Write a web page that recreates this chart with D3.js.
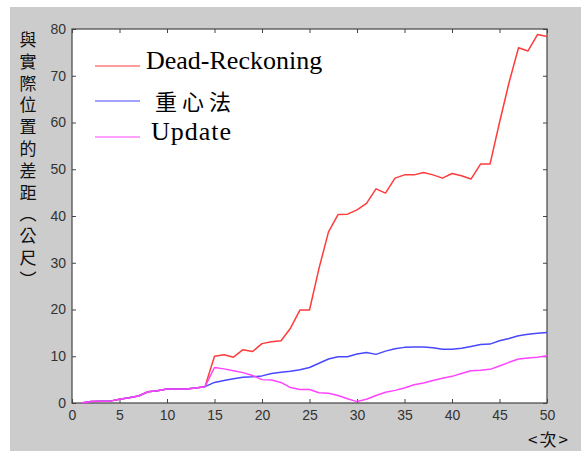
<!DOCTYPE html>
<html>
<head>
<meta charset="utf-8">
<script src="https://cdn.jsdelivr.net/npm/d3@7"></script>
<style>
  body { margin: 0; background: #fff; }
  .tick text { font-family: "Liberation Sans", Arial, sans-serif; font-size: 14px; fill: #333; }
</style>
</head>
<body>
<div id="chart"></div>
<script>
// data: error vs. real position (m) per step
const steps = d3.range(1, 51)
const deadReckoning = [0, 0.3, 0.4, 0.4, 0.8, 1.1, 1.5, 2.4, 2.6, 3.0, 3.0, 3.0, 3.2, 3.5,
    10.0, 10.3, 9.8, 11.4, 11.0, 12.7, 13.1, 13.3, 16.0, 19.9, 19.9, 28.8, 36.6, 40.3, 40.4, 41.3,
    42.7, 45.8, 44.9, 48.1, 48.8, 48.8, 49.3, 48.8, 48.1, 49.1, 48.6, 47.9, 51.1, 51.1, 60.0, 68.5,
    76.0, 75.3, 78.8, 78.4]
const centroid = [0, 0.3, 0.4, 0.4, 0.8, 1.1, 1.5, 2.4, 2.6, 3.0, 3.0, 3.0, 3.2, 3.5,
    4.4, 4.8, 5.2, 5.5, 5.6, 5.8, 6.3, 6.6, 6.8, 7.1, 7.6, 8.5, 9.4, 9.9, 9.9, 10.5,
    10.8, 10.4, 11.1, 11.6, 11.9, 12.0, 12.0, 11.8, 11.5, 11.5, 11.7, 12.1, 12.5, 12.6, 13.3, 13.8,
    14.4, 14.7, 14.9, 15.1]
const update = [0, 0.3, 0.4, 0.4, 0.8, 1.1, 1.5, 2.4, 2.6, 3.0, 3.0, 3.0, 3.2, 3.5,
    7.6, 7.3, 6.9, 6.5, 5.9, 5.0, 4.9, 4.4, 3.3, 2.9, 2.9, 2.2, 2.1, 1.6, 0.9, 0.3,
    0.8, 1.6, 2.3, 2.7, 3.2, 3.9, 4.3, 4.8, 5.3, 5.7, 6.3, 6.9, 7.0, 7.2, 7.9, 8.7,
    9.4, 9.6, 9.8, 10.1]
const seriesNames = ["Dead-Reckoning", "重心法", "Update"]
const seriesColors = ["#ff3c3c", "#4848ff", "#ff44ff"]
const xTicks = [0, 5, 10, 15, 20, 25, 30, 35, 40, 45, 50]
const yTicks = [0, 10, 20, 30, 40, 50, 60, 70, 80]
const yLabel = "與實際位置的差距（公尺）"

const W = 581, H = 453
const margin = {top: 29, right: 34, bottom: 50, left: 72}
const width = W - margin.left - margin.right
const height = H - margin.top - margin.bottom

const root = d3.select("#chart").append("svg")
    .attr("width", W)
    .attr("height", H)

// figure background
root.append("rect")
    .attr("x", 10).attr("y", 7)
    .attr("width", W - 10).attr("height", 444)
    .attr("fill", "#cccccc")

const svg = root.append("g")
    .attr("transform", `translate(${margin.left},${margin.top})`)

const x = d3.scaleLinear().domain([0, 50]).range([0, width])
const y = d3.scaleLinear().domain([0, 80]).range([height, 0])

svg.append("rect")
    .attr("width", width).attr("height", height)
    .attr("fill", "#fff")

// axes with inward ticks on all sides
const xAx = d3.axisBottom(x).tickValues(xTicks).tickSizeInner(-4).tickSizeOuter(0).tickPadding(7)
const yAx = d3.axisLeft(y).tickValues(yTicks).tickSizeInner(-4).tickSizeOuter(0).tickPadding(6)

svg.append("g").attr("transform", `translate(0,${height})`).call(xAx)
svg.append("g").call(yAx)
svg.append("g").call(d3.axisTop(x).tickValues(xTicks).tickSizeInner(-4).tickSizeOuter(0).tickFormat(""))
svg.append("g").attr("transform", `translate(${width},0)`)
    .call(d3.axisRight(y).tickValues(yTicks).tickSizeInner(-4).tickSizeOuter(0).tickFormat(""))

svg.selectAll(".domain").remove()
svg.selectAll(".tick line").attr("stroke", "#444")

svg.append("rect")
    .attr("width", width).attr("height", height)
    .attr("fill", "none")
    .attr("stroke", "#444")
    .attr("stroke-width", 1.2)

// lines
const line = d3.line()
    .x((d, i) => x(steps[i]))
    .y(d => y(d))

;[deadReckoning, centroid, update].forEach((s, i) => {
    svg.append("path")
        .datum(s)
        .attr("fill", "none")
        .attr("stroke", seriesColors[i])
        .attr("stroke-width", 1.5)
        .attr("stroke-linejoin", "round")
        .attr("d", line)
})

// legend (no box)
const legendY = [66, 101, 137]
const legend = root.append("g")
seriesNames.forEach((name, i) => {
    legend.append("line")
        .attr("x1", 95).attr("x2", 140)
        .attr("y1", legendY[i]).attr("y2", legendY[i])
        .attr("stroke", seriesColors[i])
        .attr("stroke-width", 1.2)
    const cjk = i === 1
    legend.append("text")
        .attr("x", cjk ? 155 : (i === 0 ? 146 : 151))
        .attr("y", legendY[i] + (cjk ? 9 : 3))
        .attr("font-family", cjk ? "'Noto Sans CJK TC', sans-serif" : "'Liberation Serif', 'Times New Roman', serif")
        .attr("font-size", cjk ? 22 : 26)
        .attr("letter-spacing", cjk ? 5 : (i === 2 ? 1 : 0))
        .attr("fill", "#000")
        .text(name)
})

// vertical y label
root.append("text")
    .attr("x", 28)
    .attr("y", 31)
    .attr("writing-mode", "vertical-rl")
    .style("writing-mode", "vertical-rl")
    .attr("font-family", "'Noto Sans CJK TC', sans-serif")
    .attr("font-size", 17)
    .attr("letter-spacing", 4.8)
    .attr("fill", "#111")
    .text(yLabel)

// x label
root.append("text")
    .attr("x", 549)
    .attr("y", 446)
    .attr("text-anchor", "middle")
    .attr("font-family", "'Noto Sans CJK TC', sans-serif")
    .attr("font-size", 17)
    .attr("letter-spacing", 2)
    .attr("fill", "#111")
    .text("<次>")
</script>
</body>
</html>
